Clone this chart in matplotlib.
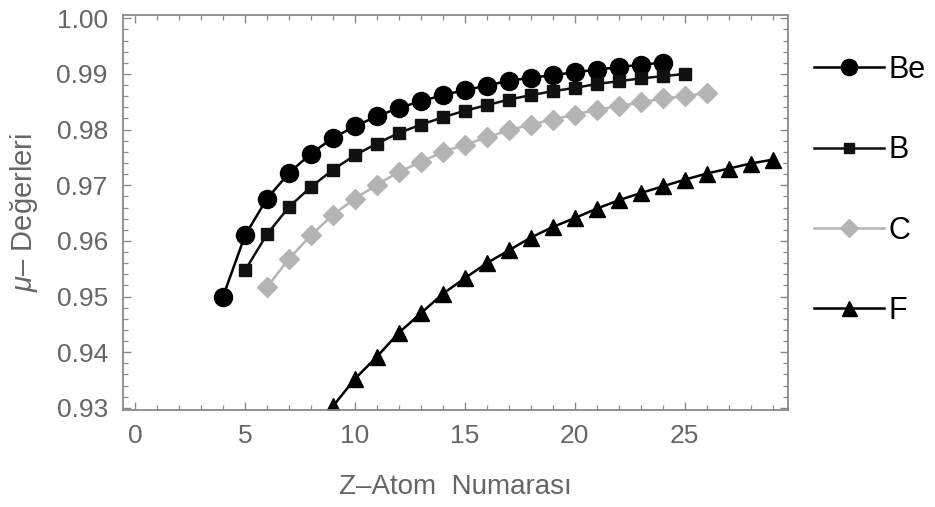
import matplotlib
matplotlib.use("Agg")
import matplotlib.pyplot as plt
from matplotlib.ticker import MultipleLocator

plt.rcParams['font.family'] = ['Liberation Sans', 'DejaVu Sans']
plt.rcParams['mathtext.fontset'] = 'custom'
plt.rcParams['mathtext.rm'] = 'Liberation Sans'
plt.rcParams['mathtext.it'] = 'Liberation Sans:italic'

# mu values against atomic number Z for each series
z_be = list(range(4, 25))
mu_be = [0.9500, 0.9610, 0.9676, 0.9722, 0.9757, 0.9785, 0.9806, 0.9824,
         0.9839, 0.9851, 0.9862, 0.9871, 0.9879, 0.9888, 0.9893, 0.9898,
         0.9903, 0.9908, 0.9912, 0.9917, 0.9920]

z_b = list(range(5, 26))
mu_b = [0.9547, 0.9612, 0.9661, 0.9697, 0.9728, 0.9754, 0.9775, 0.9794,
        0.9809, 0.9822, 0.9834, 0.9844, 0.9854, 0.9862, 0.9869, 0.9875,
        0.9882, 0.9887, 0.9892, 0.9896, 0.9900]

z_c = list(range(6, 27))
mu_c = [0.9517, 0.9568, 0.9610, 0.9647, 0.9676, 0.9701, 0.9724, 0.9742,
        0.9760, 0.9773, 0.9786, 0.9799, 0.9809, 0.9818, 0.9827, 0.9836,
        0.9842, 0.9849, 0.9856, 0.9860, 0.9866]

z_f = list(range(9, 30))
mu_f = [0.9303, 0.9352, 0.9392, 0.9435, 0.9470, 0.9505, 0.9533, 0.9560,
        0.9583, 0.9606, 0.9625, 0.9641, 0.9658, 0.9673, 0.9686, 0.9698,
        0.9710, 0.9721, 0.9730, 0.9739, 0.9746]

GREY = '#8a8a8a'
TXT = '#666666'

fig = plt.figure(figsize=(9.35, 5.07), dpi=100)
ax = fig.add_axes([0.1316, 0.1913, 0.7112, 0.7791])

lw = 1.8
ax.plot(z_be, mu_be, color='black', lw=lw, marker='o', ms=13, label='Be')
ax.plot(z_b, mu_b, color='#111111', lw=lw, marker='s', ms=8.5, label='B')
ax.plot(z_c, mu_c, color='#b4b4b4', lw=lw, marker='D', ms=10.5, label='C')
ax.plot(z_f, mu_f, color='black', lw=lw, marker='^', ms=12, label='F')

ax.set_xlim(-0.55, 29.7)
ax.set_ylim(0.9296, 1.0006)

ax.xaxis.set_major_locator(MultipleLocator(5))
ax.xaxis.set_minor_locator(MultipleLocator(1))
ax.yaxis.set_major_locator(MultipleLocator(0.01))
ax.yaxis.set_minor_locator(MultipleLocator(0.002))
ax.yaxis.set_major_formatter(plt.FormatStrFormatter('%.2f'))

for s in ax.spines.values():
    s.set_color(GREY)
    s.set_linewidth(1.3)
ax.tick_params(which='both', direction='in', top=True, right=True,
               color=GREY, labelcolor=TXT, labelsize=19)
ax.tick_params(which='major', length=6, width=1.0)
ax.tick_params(which='minor', length=3.5, width=0.9)
ax.tick_params(axis='y', which='major', pad=11)
ax.tick_params(axis='x', which='major', pad=10)

ax.set_xlabel('Z\u2013Atom  Numaras\u0131', fontsize=20, color=TXT, labelpad=19)
ax.set_ylabel('$\\mu$\u2013 De\u011ferleri', fontsize=21, color=TXT, labelpad=12)

leg = ax.legend(loc='upper left', bbox_to_anchor=(1.02, 0.93), frameon=False,
                fontsize=22, handlelength=2.3, handletextpad=0.15,
                labelspacing=1.65, borderaxespad=0, markerscale=0.9)

fig.savefig('out.png', dpi=100)
